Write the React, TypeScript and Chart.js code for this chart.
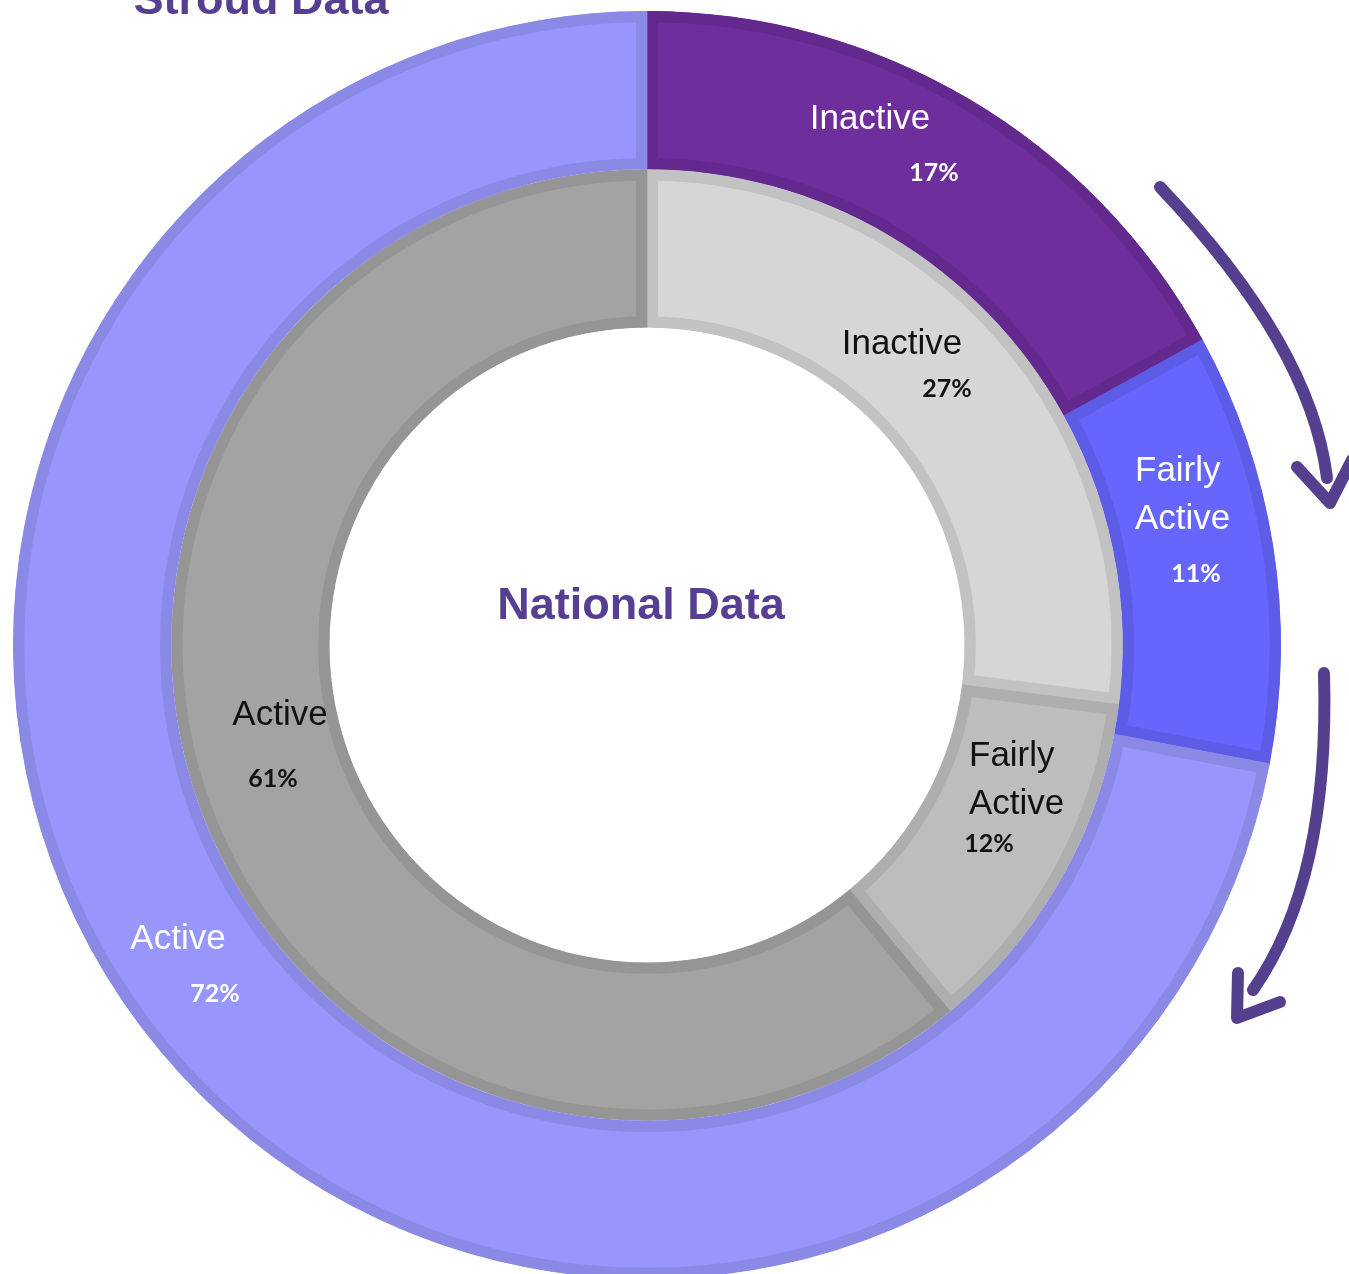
import React, { useEffect, useRef } from "react";
import { Chart, registerables } from "chart.js";

Chart.register(...registerables);

// ---- data ----
const categories = ["Inactive", "Fairly Active", "Active"];
const stroudValues = [17, 11, 72];
const nationalValues = [27, 12, 61];
const titleText = "Stroud Data";
const centerText = "National Data";

// ---- styles ----
const stroudFill = ["#6E2E9C", "#6666FF", "#9796FD"];
const stroudBorder = ["#63298E", "#5C5CE6", "#8A8AE6"];
const nationalFill = ["#D6D6D6", "#BDBDBD", "#A3A3A3"];
const nationalBorder = ["#C2C2C2", "#AEAEAE", "#959595"];
const purple = "#563F92";

// label layout: offsets from chart centre (px); lines split for multi-line names
type LabelPos = { name: [number, number]; pct: [number, number]; multiline?: boolean };
const stroudLabelPos: LabelPos[] = [
  { name: [223, -526], pct: [287, -472] },
  { name: [488, -174], pct: [549, -71], multiline: true },
  { name: [-469, 294], pct: [-432, 349] },
];
const nationalLabelPos: LabelPos[] = [
  { name: [255, -301], pct: [300, -256] },
  { name: [322, 111], pct: [342, 199], multiline: true },
  { name: [-367, 70], pct: [-374, 134] },
];

const labelPlugin = {
  id: "customLabels",
  afterDraw(chart: any) {
    const ctx = chart.ctx as CanvasRenderingContext2D;
    const arc = chart.getDatasetMeta(0).data[0];
    const cx = arc.x;
    const cy = arc.y;
    ctx.save();

    const drawSet = (values: number[], pos: LabelPos[], color: string) => {
      values.forEach((v, i) => {
        const p = pos[i];
        ctx.fillStyle = color;
        ctx.font = "35px 'Liberation Sans', Arial, sans-serif";
        ctx.textBaseline = "middle";
        if (p.multiline) {
          ctx.textAlign = "left";
          const lines = categories[i].split(" ");
          lines.forEach((ln, k) => {
            ctx.fillText(ln, cx + p.name[0], cy + p.name[1] + k * 48);
          });
        } else {
          ctx.textAlign = "center";
          ctx.fillText(categories[i], cx + p.name[0], cy + p.name[1]);
        }
        ctx.textAlign = "center";
        ctx.font = "bold 25px Lato, 'Open Sans', sans-serif";
        ctx.fillText(v + "%", cx + p.pct[0], cy + p.pct[1]);
      });
    };
    drawSet(stroudValues, stroudLabelPos, "#FFFFFF");
    drawSet(nationalValues, nationalLabelPos, "#111111");

    // centre text
    ctx.fillStyle = purple;
    ctx.font = "bold 45px 'Liberation Sans', Arial, sans-serif";
    ctx.textAlign = "center";
    ctx.textBaseline = "middle";
    ctx.fillText(centerText, cx - 6, cy - 38);

    // title (cut off at top)
    ctx.textBaseline = "alphabetic";
    ctx.fillText(titleText, 261, 14);

    // decorative arrows
    ctx.strokeStyle = "#553F8F";
    ctx.lineWidth = 12;
    ctx.lineCap = "round";
    ctx.lineJoin = "round";
    ctx.beginPath();
    ctx.moveTo(1160, 187);
    ctx.quadraticCurveTo(1311, 346, 1327, 478);
    ctx.stroke();
    ctx.beginPath();
    ctx.moveTo(1297, 467);
    ctx.lineTo(1330, 503);
    ctx.lineTo(1352, 460);
    ctx.stroke();

    ctx.beginPath();
    ctx.moveTo(1324, 673);
    ctx.quadraticCurveTo(1330, 880, 1253, 990);
    ctx.stroke();
    ctx.beginPath();
    ctx.moveTo(1238, 973);
    ctx.lineTo(1237, 1018);
    ctx.lineTo(1280, 1002);
    ctx.stroke();

    ctx.restore();
  },
};

export default function App() {
  const ref = useRef<HTMLCanvasElement | null>(null);
  useEffect(() => {
    if (!ref.current) return;
    const chart = new Chart(ref.current, {
      type: "doughnut",
      data: {
        labels: categories,
        datasets: [
          {
            label: "Stroud",
            data: stroudValues,
            backgroundColor: stroudFill,
            borderColor: stroudBorder,
            borderWidth: 11,
            borderAlign: "inner",
            borderJoinStyle: "miter",
          } as any,
          {
            label: "National",
            data: nationalValues,
            backgroundColor: nationalFill,
            borderColor: nationalBorder,
            borderWidth: 11,
            borderAlign: "inner",
            borderJoinStyle: "miter",
          } as any,
        ],
      },
      options: {
        responsive: false,
        animation: false,
        radius: 634,
        cutout: 315,
        rotation: 0,
        layout: { padding: { left: 0, right: 55, top: 16, bottom: 0 } },
        plugins: {
          legend: { display: false },
          tooltip: { enabled: false },
          title: { display: false },
        },
      } as any,
      plugins: [labelPlugin],
    });
    return () => chart.destroy();
  }, []);
  return (
    <div style={{ position: "absolute", left: 0, top: 0, width: 1349, height: 1274, overflow: "hidden" }}>
      <canvas ref={ref} width={1349} height={1274} style={{ display: "block" }} />
    </div>
  );
}
